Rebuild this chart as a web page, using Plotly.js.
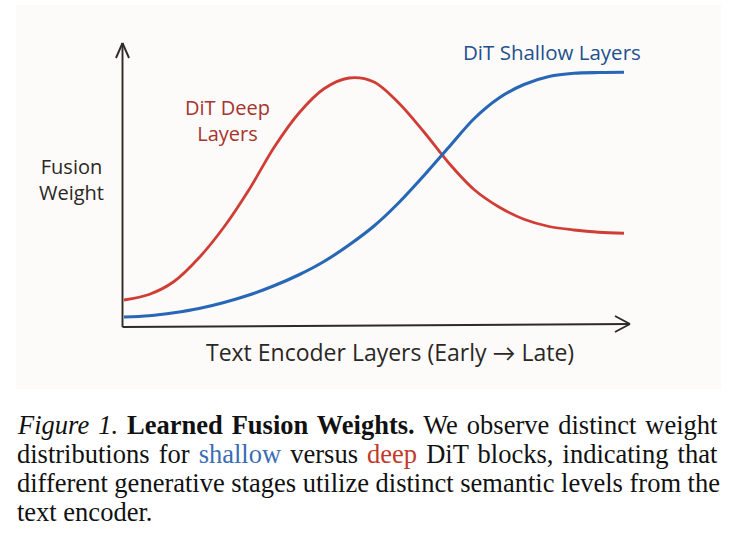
<!DOCTYPE html>
<html>
<head>
<meta charset="utf-8">
<script src="https://cdn.plot.ly/plotly-3.0.1.min.js"></script>
<style>
html,body{margin:0;padding:0;background:#ffffff;}
#chart{width:735px;height:543px;}
</style>
</head>
<body>
<div id="chart"></div>
<script>
// Text encoder layer position (early -> late), sampled along the axis
const layerPos = [0,0.5,1,1.5,2,2.5,3,3.5,4,4.5,5,5.5,6,6.5,7,7.5,8,8.5,9,9.5,10];
// DiT deep layers fusion weight
const deepWeights = [0.108,0.130,0.182,0.277,0.400,0.549,0.718,0.856,0.953,0.996,0.980,0.895,0.780,0.655,0.550,0.480,0.431,0.402,0.388,0.379,0.375];
// DiT shallow layers fusion weight
const shallowWeights = [0.040,0.045,0.057,0.074,0.098,0.128,0.165,0.209,0.262,0.328,0.404,0.498,0.606,0.720,0.833,0.916,0.970,1.002,1.015,1.018,1.019];

const seriesNames = ["DiT Deep Layers", "DiT Shallow Layers"];
const xTitle = "Text Encoder Layers (Early \u2192 Late)";
const yTitle = "Fusion<br>Weight";
const captionLines = [
  "<i>Figure 1.</i> <b>Learned Fusion Weights.</b> We observe distinct weight",
  "distributions for <span style='color:#3a6db4'>shallow</span> versus <span style='color:#c0392b'>deep</span> DiT blocks, indicating that",
  "different generative stages utilize distinct semantic levels from the",
  "text encoder."
];

const hand = "'Open Sans', Lato, sans-serif";
const serif = "'Liberation Serif', 'Times New Roman', serif";

// plot area geometry (pixels)
const M = {l: 109, r: 91, t: 27, b: 191};
const PW = 735 - M.l - M.r, PH = 543 - M.t - M.b;
const px = v => (v - M.l) / PW;
const py = v => (543 - M.b - v) / PH;

const traces = [
  {x: layerPos, y: deepWeights, name: seriesNames[0], mode: "lines",
   line: {color: "#cf3d35", width: 2.8, shape: "spline", smoothing: 0.9}},
  {x: layerPos, y: shallowWeights, name: seriesNames[1], mode: "lines",
   line: {color: "#2767b6", width: 3.1, shape: "spline", smoothing: 0.9}}
];

const axisColor = "#2e2a26";
const aw = 1.9;
const layout = {
  width: 735, height: 543,
  margin: M,
  paper_bgcolor: "#ffffff",
  plot_bgcolor: "rgba(0,0,0,0)",
  showlegend: false,
  xaxis: {range: [-0.3, 10.4], showgrid: false, zeroline: false, showline: false, showticklabels: false, ticks: "", fixedrange: true},
  yaxis: {range: [-0.1, 1.2], showgrid: false, zeroline: false, showline: false, showticklabels: false, ticks: "", fixedrange: true},
  shapes: [
    // paper sketch background
    {type: "rect", xref: "paper", yref: "paper", x0: px(16), x1: px(721), y0: py(389), y1: py(5),
     fillcolor: "#fcfbf9", line: {width: 0}, layer: "below"},
    // y axis with arrowhead
    {type: "line", xref: "x", yref: "y", x0: -0.03, x1: -0.03, y0: 0.0, y1: 1.136, line: {color: axisColor, width: aw}},
    {type: "line", xref: "x", yref: "y", x0: -0.16, x1: -0.03, y0: 1.076, y1: 1.136, line: {color: axisColor, width: aw}},
    {type: "line", xref: "x", yref: "y", x0: 0.10, x1: -0.03, y0: 1.076, y1: 1.136, line: {color: axisColor, width: aw}},
    // x axis with arrowhead
    {type: "line", xref: "x", yref: "y", x0: -0.03, x1: 10.12, y0: 0, y1: 0.012, line: {color: axisColor, width: aw}},
    {type: "line", xref: "x", yref: "y", x0: 9.82, x1: 10.12, y0: 0.044, y1: 0.012, line: {color: axisColor, width: aw}},
    {type: "line", xref: "x", yref: "y", x0: 9.82, x1: 10.12, y0: -0.020, y1: 0.012, line: {color: axisColor, width: aw}}
  ],
  annotations: [
    {text: "DiT Deep<br>Layers", xref: "paper", yref: "paper", x: px(227), y: py(120), xanchor: "center", yanchor: "middle",
     showarrow: false, align: "center", font: {family: hand, size: 20, color: "#a5342f"}},
    {text: "DiT Shallow Layers", xref: "paper", yref: "paper", x: px(552), y: py(52), xanchor: "center", yanchor: "middle",
     showarrow: false, align: "center", font: {family: hand, size: 20.5, color: "#22508f"}},
    {text: yTitle, xref: "paper", yref: "paper", x: px(71), y: py(179), xanchor: "center", yanchor: "middle",
     showarrow: false, align: "center", font: {family: hand, size: 20, color: "#2a2724"}},
    {text: xTitle, xref: "paper", yref: "paper", x: px(390), y: py(352), xanchor: "center", yanchor: "middle",
     showarrow: false, align: "center", font: {family: hand, size: 23, color: "#2a2724"}}
  ]
};

const captionStart = layout.annotations.length;
captionLines.forEach((t, i) => {
  layout.annotations.push({
    text: t, xref: "paper", yref: "paper", x: px(15), xanchor: "left",
    y: py(425 + i * 29), yanchor: "middle",
    showarrow: false, align: "left",
    font: {family: serif, size: 26.5, color: "#111111"}
  });
});

Plotly.newPlot("chart", traces, layout, {displayModeBar: false, staticPlot: true}).then(gd => {
  // justify the caption's full lines (all but the last) to the right margin, like the reference
  const rightEdge = 718;
  const svgLeft = gd.getBoundingClientRect().left;
  const texts = gd.querySelectorAll(".annotation .annotation-text");
  for (let i = 0; i < captionLines.length - 1; i++) {
    const el = texts[captionStart + i];
    if (!el) continue;
    const box = el.getBoundingClientRect();
    const gaps = (el.textContent.match(/ /g) || []).length;
    const extra = rightEdge - (box.right - svgLeft);
    if (gaps > 0 && extra > 0) el.style.wordSpacing = (extra / gaps) + "px";
  }
});
</script>
</body>
</html>
